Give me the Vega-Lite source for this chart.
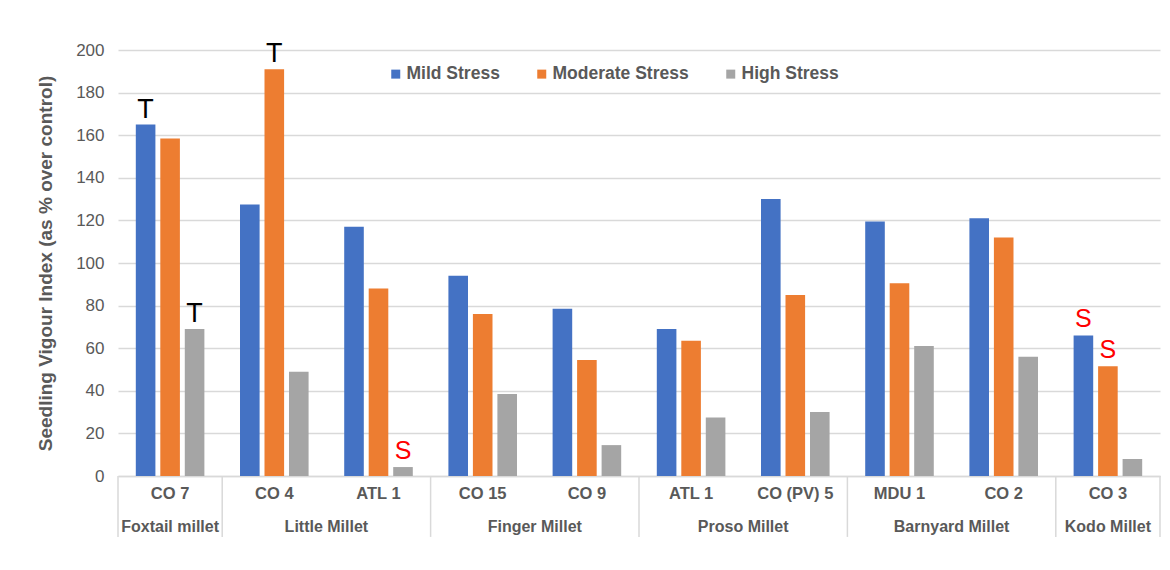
{
  "$schema": "https://vega.github.io/schema/vega-lite/v6.json",
  "width": 1042,
  "height": 426,
  "autosize": {"type": "none"},
  "padding": {"left": 118, "top": 50, "right": 10, "bottom": 94},
  "config": {"font": "Liberation Sans", "view": {"stroke": null}},
  "datasets": {
    "bars": [
      {"variety": "CO 7", "stress": "Mild Stress", "value": 165, "note": "T"},
      {"variety": "CO 7", "stress": "Moderate Stress", "value": 158.5, "note": null},
      {"variety": "CO 7", "stress": "High Stress", "value": 69, "note": "T"},
      {"variety": "CO 4", "stress": "Mild Stress", "value": 127.5, "note": null},
      {"variety": "CO 4", "stress": "Moderate Stress", "value": 191, "note": "T"},
      {"variety": "CO 4", "stress": "High Stress", "value": 49, "note": null},
      {"variety": "ATL 1", "stress": "Mild Stress", "value": 117, "note": null},
      {"variety": "ATL 1", "stress": "Moderate Stress", "value": 88, "note": null},
      {"variety": "ATL 1", "stress": "High Stress", "value": 4.2, "note": "S"},
      {"variety": "CO 15", "stress": "Mild Stress", "value": 94, "note": null},
      {"variety": "CO 15", "stress": "Moderate Stress", "value": 76, "note": null},
      {"variety": "CO 15", "stress": "High Stress", "value": 38.5, "note": null},
      {"variety": "CO 9", "stress": "Mild Stress", "value": 78.5, "note": null},
      {"variety": "CO 9", "stress": "Moderate Stress", "value": 54.5, "note": null},
      {"variety": "CO 9", "stress": "High Stress", "value": 14.5, "note": null},
      {"variety": "ATL 1 ", "stress": "Mild Stress", "value": 69, "note": null},
      {"variety": "ATL 1 ", "stress": "Moderate Stress", "value": 63.5, "note": null},
      {"variety": "ATL 1 ", "stress": "High Stress", "value": 27.5, "note": null},
      {"variety": "CO (PV) 5", "stress": "Mild Stress", "value": 130, "note": null},
      {"variety": "CO (PV) 5", "stress": "Moderate Stress", "value": 85, "note": null},
      {"variety": "CO (PV) 5", "stress": "High Stress", "value": 30, "note": null},
      {"variety": "MDU 1", "stress": "Mild Stress", "value": 119.5, "note": null},
      {"variety": "MDU 1", "stress": "Moderate Stress", "value": 90.5, "note": null},
      {"variety": "MDU 1", "stress": "High Stress", "value": 61, "note": null},
      {"variety": "CO 2", "stress": "Mild Stress", "value": 121, "note": null},
      {"variety": "CO 2", "stress": "Moderate Stress", "value": 112, "note": null},
      {"variety": "CO 2", "stress": "High Stress", "value": 56, "note": null},
      {"variety": "CO 3", "stress": "Mild Stress", "value": 66, "note": "S"},
      {"variety": "CO 3", "stress": "Moderate Stress", "value": 51.5, "note": "S"},
      {"variety": "CO 3", "stress": "High Stress", "value": 8, "note": null}
    ],
    "groups": [
      {"group": "Foxtail millet", "first": "CO 7", "n": 1},
      {"group": "Little Millet", "first": "CO 4", "n": 2},
      {"group": "Finger Millet", "first": "CO 15", "n": 2},
      {"group": "Proso Millet", "first": "ATL 1 ", "n": 2},
      {"group": "Barnyard Millet", "first": "MDU 1", "n": 2},
      {"group": "Kodo Millet", "first": "CO 3", "n": 1}
    ]
  },
  "layer": [
    {
      "data": {"name": "bars"},
      "mark": {"type": "bar"},
      "encoding": {
        "x": {
          "field": "variety",
          "type": "nominal",
          "scale": {
            "domain": ["CO 7", "CO 4", "ATL 1", "CO 15", "CO 9", "ATL 1 ", "CO (PV) 5", "MDU 1", "CO 2", "CO 3"],
            "paddingInner": 0,
            "paddingOuter": 0
          },
          "axis": {
            "title": null,
            "labelAngle": 0,
            "labelFontSize": 16.5,
            "labelFontWeight": "bold",
            "labelColor": "#595959",
            "labelPadding": 9,
            "ticks": false,
            "domainColor": "#d9d9d9",
            "domainWidth": 1.5,
            "grid": false
          }
        },
        "xOffset": {
          "field": "stress",
          "type": "nominal",
          "scale": {
            "domain": ["Mild Stress", "Moderate Stress", "High Stress"],
            "paddingInner": 0.2,
            "paddingOuter": 0.727
          }
        },
        "y": {
          "field": "value",
          "type": "quantitative",
          "scale": {"domain": [0, 200], "nice": false},
          "axis": {
            "title": "Seedling Vigour Index (as % over control)",
            "titleFontSize": 19,
            "titleFontWeight": "bold",
            "titleColor": "#595959",
            "titlePadding": 20,
            "values": [0, 20, 40, 60, 80, 100, 120, 140, 160, 180, 200],
            "labelFontSize": 17,
            "labelColor": "#595959",
            "labelPadding": 14,
            "domain": false,
            "ticks": false,
            "gridColor": "#d9d9d9",
            "gridWidth": 1.5
          }
        },
        "color": {
          "field": "stress",
          "type": "nominal",
          "scale": {
            "domain": ["Mild Stress", "Moderate Stress", "High Stress"],
            "range": ["#4472C4", "#ED7D31", "#A5A5A5"]
          },
          "legend": {
            "title": null,
            "orient": "none",
            "direction": "horizontal",
            "legendX": 269,
            "legendY": 15,
            "symbolType": "square",
            "symbolSize": 81,
            "symbolStrokeWidth": 0,
            "labelFontSize": 17.5,
            "labelFontWeight": "bold",
            "labelColor": "#595959",
            "labelOffset": 2,
            "columnPadding": 33
          }
        }
      }
    },
    {
      "data": {"name": "bars"},
      "transform": [{"filter": "datum.note === 'T'"}],
      "mark": {"type": "text", "fontSize": 27, "color": "#000000", "baseline": "alphabetic", "dy": -7},
      "encoding": {
        "x": {"field": "variety", "type": "nominal"},
        "xOffset": {"field": "stress", "type": "nominal"},
        "y": {"field": "value", "type": "quantitative"},
        "text": {"field": "note"}
      }
    },
    {
      "data": {"name": "bars"},
      "transform": [{"filter": "datum.note === 'S'"}],
      "mark": {"type": "text", "fontSize": 25, "color": "#FF0000", "baseline": "alphabetic", "dy": -8},
      "encoding": {
        "x": {"field": "variety", "type": "nominal"},
        "xOffset": {"field": "stress", "type": "nominal"},
        "y": {"field": "value", "type": "quantitative"},
        "text": {"field": "note"}
      }
    },
    {
      "data": {"name": "groups"},
      "mark": {"type": "rule", "color": "#d9d9d9", "strokeWidth": 1.5},
      "encoding": {
        "x": {"field": "first", "type": "nominal", "bandPosition": 0},
        "y": {"datum": 0},
        "y2": {"datum": -28.6}
      }
    },
    {
      "data": {"name": "groups"},
      "transform": [{"filter": "datum.group === 'Kodo Millet'"}],
      "mark": {"type": "rule", "color": "#d9d9d9", "strokeWidth": 1.5},
      "encoding": {
        "x": {"field": "first", "type": "nominal", "bandPosition": 1},
        "y": {"datum": 0},
        "y2": {"datum": -28.6}
      }
    },
    {
      "data": {"name": "groups"},
      "transform": [{"filter": "datum.n === 1"}],
      "mark": {"type": "text", "fontSize": 16, "fontWeight": "bold", "color": "#595959", "baseline": "middle", "dy": 51},
      "encoding": {
        "x": {"field": "first", "type": "nominal", "bandPosition": 0.5},
        "y": {"datum": 0},
        "text": {"field": "group"}
      }
    },
    {
      "data": {"name": "groups"},
      "transform": [{"filter": "datum.n === 2"}],
      "mark": {"type": "text", "fontSize": 16, "fontWeight": "bold", "color": "#595959", "baseline": "middle", "dy": 51},
      "encoding": {
        "x": {"field": "first", "type": "nominal", "bandPosition": 1},
        "y": {"datum": 0},
        "text": {"field": "group"}
      }
    }
  ]
}
